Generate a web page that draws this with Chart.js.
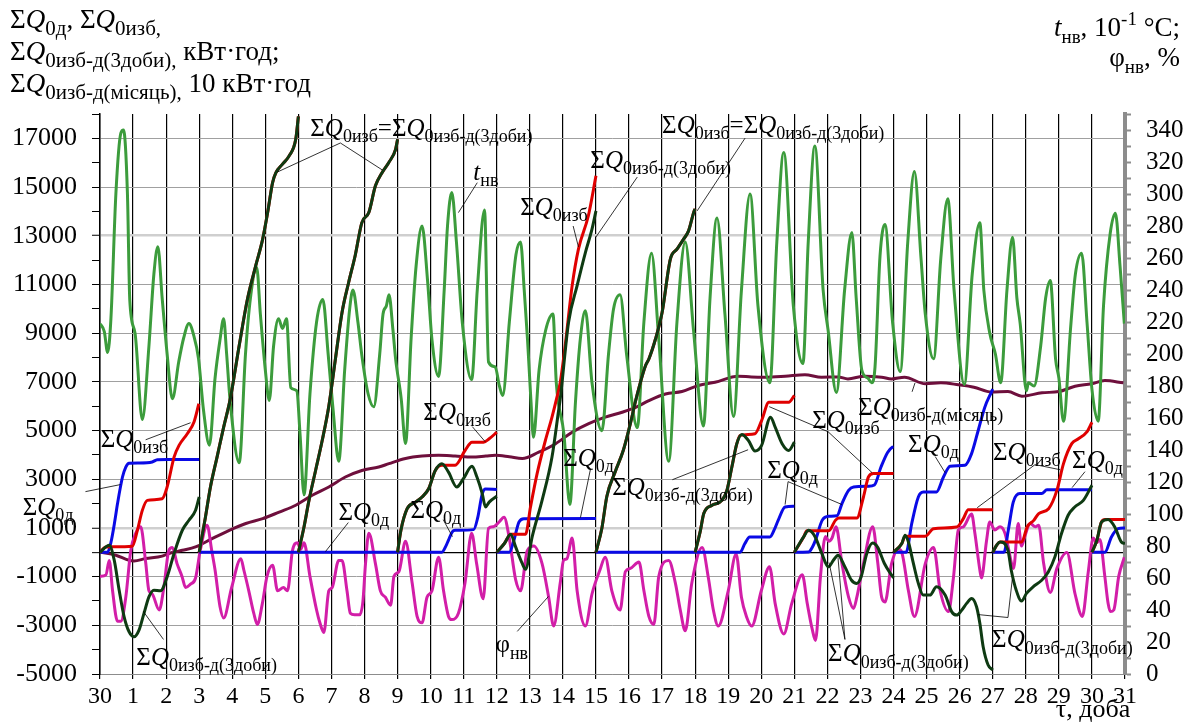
<!DOCTYPE html>
<html>
<head>
<meta charset="utf-8">
<script src="https://cdn.jsdelivr.net/npm/chart.js@4.4.1/dist/chart.umd.min.js"></script>
<style>
  html, body { margin: 0; padding: 0; background: #fff; }
  canvas { display: block; }
</style>
</head>
<body>
<canvas id="chart" width="1196" height="724"></canvas>
<script>
// x axis: day 0 is the last day (30th) of the previous month
const dayLabels = ['30', '1', '2', '3', '4', '5', '6', '7', '8', '9', '10', '11', '12', '13', '14', '15',
    '16', '17', '18', '19', '20', '21', '22', '23', '24', '25', '26', '27', '28', '29', '30', '31'];
const leftLabels = [-5000, -3000, -1000, 1000, 3000, 5000, 7000, 9000, 11000, 13000, 15000, 17000];

// t_нв, 10^-1 °C  (right axis)  [day, value]
const tempOut = [
    [0, 219], [0.13, 214], [0.23, 201], [0.33, 222], [0.48, 300], [0.63, 338], [0.71, 340], [0.83, 300], [0.9, 234],
    [1.06, 213], [1.28, 159], [1.48, 205], [1.63, 250], [1.75, 267], [1.88, 235], [2.03, 200], [2.19, 172], [2.38, 195],
    [2.53, 210], [2.69, 219], [2.83, 212], [2.98, 197], [3.13, 165], [3.31, 143], [3.48, 185], [3.63, 209], [3.74, 222],
    [3.83, 200], [3.93, 172], [4.21, 132], [4.4, 200], [4.55, 235], [4.74, 254], [4.85, 225], [5.0, 190], [5.12, 171],
    [5.25, 205], [5.4, 222], [5.52, 216], [5.64, 222], [5.77, 179], [5.95, 177], [6.05, 150], [6.17, 112], [6.35, 175],
    [6.55, 220], [6.74, 234], [6.9, 200], [7.05, 165], [7.22, 133], [7.4, 190], [7.55, 228], [7.65, 240], [7.8, 220],
    [7.92, 199], [8.11, 175], [8.28, 167], [8.46, 200], [8.56, 225], [8.66, 230], [8.74, 237], [8.86, 215], [8.94, 197],
    [9.11, 172], [9.24, 144], [9.41, 210], [9.56, 255], [9.74, 280], [9.91, 245], [10.04, 209], [10.24, 186], [10.41, 240],
    [10.51, 280], [10.64, 301], [10.78, 270], [10.96, 219], [11.24, 184], [11.41, 240], [11.63, 290], [11.75, 195],
    [11.95, 192], [12.08, 180], [12.18, 174], [12.38, 220], [12.58, 262], [12.72, 270], [12.83, 240], [12.93, 209],
    [13.03, 172], [13.11, 148], [13.28, 190], [13.48, 215], [13.7, 225], [13.8, 182], [14.03, 150], [14.21, 106],
    [14.38, 170], [14.53, 210], [14.68, 227], [14.88, 182], [15.18, 152], [15.38, 200], [15.53, 228], [15.73, 237],
    [15.93, 199], [16.25, 154], [16.45, 220], [16.68, 263], [16.9, 209], [17.2, 133], [17.45, 220], [17.7, 270],
    [17.95, 215], [18.25, 155], [18.45, 235], [18.66, 285], [18.9, 225], [19.16, 161], [19.4, 240], [19.66, 300],
    [19.9, 230], [20.26, 182], [20.47, 270], [20.68, 326], [20.97, 230], [21.26, 194], [21.42, 270], [21.62, 330],
    [21.87, 240], [22.02, 215], [22.27, 176], [22.52, 240], [22.74, 276], [22.87, 235], [23.04, 190], [23.22, 185],
    [23.34, 182], [23.44, 192], [23.59, 261], [23.74, 281], [23.97, 220], [24.2, 189], [24.43, 270], [24.63, 314],
    [24.83, 260], [24.96, 225], [25.21, 197], [25.43, 260], [25.64, 297], [25.83, 240], [26.14, 181], [26.38, 250],
    [26.61, 282], [26.73, 240], [26.91, 213], [27.08, 200], [27.24, 182], [27.43, 240], [27.6, 273], [27.73, 235],
    [27.83, 219], [28.02, 177], [28.08, 182], [28.25, 180], [28.45, 205], [28.6, 235], [28.74, 246], [28.9, 197],
    [29.0, 185], [29.14, 158], [29.35, 215], [29.5, 250], [29.69, 263], [29.85, 220], [30.0, 178], [30.19, 158],
    [30.35, 230], [30.55, 275], [30.71, 288], [30.85, 255], [30.98, 219]
];

// φ_нв, %  (right axis)
const humOut = [
    [0, 61], [0.18, 62], [0.28, 71], [0.38, 52], [0.53, 33], [0.63, 33], [0.78, 48], [0.93, 77], [1.08, 88], [1.23, 92],
    [1.38, 70], [1.48, 52], [1.58, 50], [1.79, 40], [1.93, 54], [2.08, 77], [2.19, 79], [2.33, 69], [2.48, 61], [2.59, 54],
    [2.73, 56], [2.89, 60], [3.03, 77], [3.24, 93], [3.38, 77], [3.48, 65], [3.63, 42], [3.74, 35], [3.98, 54], [4.26, 72],
    [4.35, 65], [4.5, 52], [4.65, 38], [4.76, 31], [4.91, 44], [5.05, 61], [5.22, 68], [5.37, 52], [5.55, 54], [5.67, 52],
    [5.82, 77], [5.97, 82], [6.07, 78], [6.17, 82], [6.35, 61], [6.55, 40], [6.65, 32], [6.77, 26], [6.92, 52], [7.02, 54],
    [7.22, 71], [7.32, 71], [7.47, 52], [7.57, 38], [7.7, 37], [7.85, 37], [7.95, 45], [8.03, 69], [8.13, 88], [8.33, 69],
    [8.48, 52], [8.63, 48], [8.79, 43], [8.89, 61], [9.04, 64], [9.24, 83], [9.44, 57], [9.59, 36], [9.74, 32], [9.89, 48],
    [10.04, 52], [10.24, 73], [10.39, 52], [10.54, 36], [10.64, 34], [10.84, 38], [11.04, 57], [11.24, 88], [11.39, 69],
    [11.59, 47], [11.75, 91], [11.9, 92], [12.07, 95], [12.22, 98], [12.37, 86], [12.57, 59], [12.72, 52], [12.92, 77],
    [13.12, 80], [13.37, 69], [13.57, 48], [13.72, 30], [13.92, 57], [14.02, 71], [14.12, 72], [14.28, 85], [14.43, 52],
    [14.68, 30], [14.88, 50], [15.12, 65], [15.28, 73], [15.48, 52], [15.73, 40], [15.89, 64], [16.04, 66], [16.3, 70],
    [16.45, 52], [16.6, 36], [16.75, 31], [16.9, 61], [17.2, 71], [17.4, 57], [17.55, 40], [17.7, 27], [17.9, 57],
    [18.21, 79], [18.4, 60], [18.55, 40], [18.7, 30], [19.0, 52], [19.24, 75], [19.4, 48], [19.55, 36], [19.71, 30],
    [20.0, 52], [20.25, 67], [20.42, 44], [20.68, 25], [20.92, 44], [21.24, 62], [21.39, 44], [21.54, 28], [21.64, 21],
    [21.79, 61], [21.94, 86], [22.04, 83], [22.14, 85], [22.26, 92], [22.44, 69], [22.64, 48], [22.79, 41], [22.89, 48],
    [23.09, 69], [23.37, 92], [23.52, 70], [23.64, 48], [23.74, 45], [23.94, 69], [24.15, 78], [24.25, 76], [24.45, 52],
    [24.63, 36], [24.96, 69], [25.21, 79], [25.41, 52], [25.66, 39], [25.81, 60], [25.96, 90], [26.11, 92], [26.36, 100],
    [26.46, 88], [26.61, 65], [26.66, 60], [26.81, 83], [26.91, 95], [27.06, 90], [27.22, 92], [27.37, 88], [27.47, 79],
    [27.57, 69], [27.63, 66], [27.77, 94], [27.87, 80], [27.97, 86], [28.13, 94], [28.29, 92], [28.39, 93], [28.54, 69],
    [28.74, 51], [28.94, 66], [29.24, 76], [29.49, 50], [29.71, 36], [29.89, 64], [30.04, 85], [30.14, 82], [30.24, 84],
    [30.39, 61], [30.49, 44], [30.56, 39], [30.66, 40], [30.81, 61], [30.98, 73]
];

// ΣQ0изб-д(місяць), 10 kWh  (left axis)
const qMonth = [
    [0, 0], [0.48, -120], [0.88, -330], [1.03, -355], [1.38, -260], [1.88, -160], [2.08, -50], [2.49, 80], [2.89, 220],
    [3.39, 560], [3.91, 900], [4.41, 1180], [4.92, 1380], [5.42, 1650], [5.92, 1930], [6.42, 2340], [6.92, 2680],
    [7.42, 3090], [7.92, 3360], [8.43, 3500], [8.74, 3640], [9.24, 3850], [9.74, 3950], [10.24, 3980], [10.74, 3950],
    [11.25, 3910], [11.67, 3950], [11.96, 3980], [12.38, 3920], [12.77, 3850], [13.27, 4110], [13.78, 4460],
    [14.28, 4930], [14.78, 5280], [15.28, 5550], [15.79, 5750], [16.2, 5950], [16.6, 6230], [17.1, 6500], [17.6, 6600],
    [18.1, 6850], [18.6, 6980], [19.3, 7230], [19.7, 7200], [20.1, 7190], [20.72, 7230], [21.32, 7290], [21.82, 7190],
    [22.32, 7200], [22.62, 7120], [23.12, 7230], [23.64, 7190], [23.94, 7120], [24.33, 7190], [24.96, 6920],
    [25.43, 6960], [25.96, 6880], [26.43, 6780], [26.96, 6580], [27.46, 6600], [27.88, 6410], [28.49, 6550],
    [29.0, 6600], [29.49, 6820], [29.99, 6920], [30.39, 7050], [30.95, 6960]
];

// three-day blocks with ΣQ0д = 0, where ΣQ0изб = ΣQ0изб-д(3доби)
const qSame3 = [[3, 0], [3.19, 1450], [3.34, 2680], [3.54, 3910], [3.74, 5140], [3.94, 6300], [4.21, 8490], [4.46, 10400],
    [4.71, 11770], [4.92, 12860], [5.07, 13950], [5.22, 15180], [5.32, 15590], [5.52, 15940], [5.72, 16280], [5.92, 16960], [6, 17900]];
const qSame6 = [[6, 0], [6.17, 1040], [6.32, 2130], [6.52, 3360], [6.72, 4590], [6.92, 6000], [7.12, 7940], [7.32, 9850],
    [7.52, 11080], [7.72, 12200], [7.92, 13540], [8.13, 13950], [8.33, 15050], [8.53, 15590], [8.73, 16000], [8.94, 16550], [9, 16960]];
const qSame15 = [[15, 0], [15.18, 1000], [15.33, 2300], [15.58, 3300], [15.83, 4200], [16.04, 5280], [16.2, 6230], [16.5, 7670],
    [16.6, 7940], [16.8, 8760], [17.0, 9850], [17.25, 12040], [17.45, 12450], [17.65, 12860], [17.8, 13200], [17.97, 14020], [18, 14100]];

// ΣQ0д, kWh, restarts every three days
const qDemand = [
    [[0, 0], [0.23, 0], [0.33, 400], [0.45, 1300], [0.53, 2000], [0.68, 3090], [0.78, 3500], [0.88, 3660], [1.18, 3670],
        [1.58, 3710], [1.73, 3800], [2.03, 3810], [3, 3810]],
    [[3, 0], [6, 0]],
    [[6, 0], [9, 0]],
    [[9, 0], [10.34, 0], [10.46, 250], [10.54, 500], [10.66, 850], [10.74, 900], [11.3, 930], [11.42, 1400], [11.56, 2400],
        [11.66, 2600], [12, 2580]],
    [[12, 0], [12.38, 0], [12.52, 500], [12.67, 1240], [12.82, 1380], [15, 1390]],
    [[15, 0], [18, 0]],
    [[18, 0], [19.36, 0], [19.5, 350], [19.65, 630], [20.26, 630], [20.4, 950], [20.51, 1310], [20.72, 1860], [21, 1890]],
    [[21, 0], [21.43, 10], [21.54, 200], [21.64, 500], [21.84, 1310], [22.04, 1480], [22.29, 1500], [22.44, 2000],
        [22.64, 2540], [22.79, 2680], [23.24, 2710], [23.42, 2760], [23.62, 3500], [23.82, 4100], [23.97, 4320], [24, 4330]],
    [[24, 0], [24.38, 0], [24.55, 1180], [24.75, 2270], [24.9, 2470], [25.3, 2480], [25.51, 3090], [25.71, 3530],
        [26.16, 3570], [26.36, 4050], [26.56, 5000], [26.76, 5960], [26.96, 6580], [27, 6700]],
    [[27, 0], [27.34, 0], [27.47, 900], [27.62, 2060], [27.82, 2410], [28.48, 2410], [28.64, 2570], [30, 2570]],
    [[30, 0], [30.39, 0], [30.59, 630], [30.79, 970], [31, 1000]]
];

// ΣQ0изб, kWh
const qExcess = [
    [[0, 0], [0.18, 220], [0.98, 250], [1.13, 900], [1.28, 1720], [1.43, 2130], [1.88, 2200], [2.03, 2680], [2.24, 3910],
        [2.39, 4390], [2.64, 4870], [2.84, 5340], [2.99, 6100]],
    qSame3,
    qSame6,
    [[9, 0], [9.1, 900], [9.29, 1790], [9.54, 2060], [9.74, 2270], [9.94, 2610], [10.14, 3360], [10.34, 3570], [10.74, 3570],
        [11.04, 4180], [11.25, 4520], [11.6, 4520], [11.77, 4660], [12, 4930]],
    [[12, 0], [12.23, 360], [12.42, 740], [12.87, 740], [13.02, 1860], [13.22, 3230], [13.47, 4590], [13.67, 5550],
        [13.82, 6370], [13.92, 6980], [14.07, 8500], [14.28, 10950], [14.47, 12450], [14.77, 13820], [15, 15460]],
    qSame15,
    [[18, 0], [18.16, 900], [18.26, 1590], [18.51, 1930], [18.81, 2130], [18.96, 2540], [19.11, 3500], [19.26, 4460],
        [19.36, 4800], [19.81, 4870], [20.01, 5410], [20.23, 6160], [20.83, 6160], [21, 6440]],
    [[21, 0], [21.28, 630], [21.38, 880], [22.04, 880], [22.24, 1310], [22.34, 1410], [22.89, 1410], [23.09, 2270],
        [23.24, 3090], [23.39, 3230], [24, 3230]],
    [[24, 0], [24.25, 360], [24.35, 650], [24.45, 660], [24.96, 660], [25.21, 970], [25.91, 1040], [26.11, 1380],
        [26.26, 1750], [27, 1750]],
    [[27, 0], [27.12, 290], [27.22, 424], [27.88, 424], [28.04, 1040], [28.24, 1310], [28.39, 1590], [28.69, 1790],
        [28.94, 2540], [29.14, 3640], [29.39, 4460], [29.59, 4660], [29.84, 4930], [30, 5340]],
    [[30, 0], [30.15, 494], [30.29, 1244], [30.4, 1343], [31, 1343]]
];

// ΣQ0изб-д(3доби), kWh
const qExcessNet = [
    [[0, 0], [0.28, 289], [0.43, -326], [0.58, -1556], [0.73, -2651], [0.88, -3266], [1.03, -3471], [1.18, -3196],
        [1.33, -2511], [1.48, -1831], [1.63, -1556], [1.83, -1585], [2.03, -1011], [2.24, -51], [2.49, 904], [2.69, 1314],
        [2.89, 1724], [3, 2270]],
    qSame3,
    qSame6,
    [[9, 0], [9.1, 900], [9.29, 1790], [9.54, 2060], [9.74, 2270], [9.94, 2610], [10.14, 3360], [10.34, 3640], [10.54, 3290],
        [10.79, 2680], [10.99, 3020], [11.25, 3530], [11.4, 3090], [11.56, 2410], [11.66, 1860], [11.77, 2060], [12, 2300]],
    [[12, 0], [12.23, 360], [12.42, 740], [12.57, 220], [12.77, -460], [12.87, -700], [13.07, 630], [13.37, 2130],
        [13.67, 3910], [13.87, 5820], [13.92, 6300], [14.17, 9440], [14.43, 10950], [14.68, 12310], [14.88, 13270], [15, 14020]],
    qSame15,
    [[18, 0], [18.16, 900], [18.26, 1590], [18.51, 1930], [18.81, 2130], [18.96, 2540], [19.11, 3500], [19.26, 4460],
        [19.41, 4840], [19.61, 4590], [19.81, 4160], [20.01, 4390], [20.28, 5550], [20.42, 5140], [20.63, 4460],
        [20.83, 4180], [21, 4520]],
    [[21, 0], [21.28, 630], [21.43, 900], [21.63, 630], [21.83, -50], [22.03, -600], [22.18, -330], [22.32, -120],
        [22.53, -600], [22.73, -1150], [22.89, -1280], [23.02, -1010], [23.19, -50], [23.37, 380], [23.52, 200],
        [23.72, -450], [23.92, -900], [24, -1050]],
    [[24, 0], [24.25, 360], [24.35, 700], [24.45, 420], [24.6, -460], [24.75, -1280], [24.9, -1760], [25.1, -1760],
        [25.3, -1420], [25.56, -1760], [25.76, -2450], [25.91, -2580], [26.06, -2380], [26.21, -2100], [26.36, -1900],
        [26.51, -2240], [26.61, -2920], [26.71, -3880], [26.86, -4630], [27, -4840]],
    [[27, 0], [27.12, 290], [27.22, 424], [27.46, 80], [27.56, -740], [27.71, -1560], [27.87, -2000], [28.02, -1690],
        [28.22, -1420], [28.48, -1150], [28.68, -810], [28.88, -190], [29.08, 770], [29.28, 1520], [29.48, 1860],
        [29.74, 2130], [30, 2750]],
    [[30, 0], [30.15, 494], [30.29, 1244], [30.49, 1343], [30.69, 1039], [30.89, 424], [31, 359]]
];

// ---------- helpers ----------
const serif = '"Liberation Serif", "Times New Roman", serif';

function pts(arr) {
    return arr.map(p => ({ x: p[0], y: p[1] }));
}
// join the three-day blocks, with a break between them
function blocks(list) {
    let out = [];
    list.forEach((seg, i) => {
        if (i > 0) out.push({ x: seg[0][0], y: null });
        out = out.concat(pts(seg));
    });
    return out;
}

function setFont(ctx, kind, size, ratio) {
    const small = Math.round(size * ratio);
    if (kind === 'i') ctx.font = 'italic ' + size + 'px ' + serif;
    else if (kind === 's' || kind === 'p') ctx.font = small + 'px ' + serif;
    else ctx.font = size + 'px ' + serif;
}
function drawRich(ctx, parts, x, y, size, align, ratio) {
    ratio = ratio || 0.68;
    let w = 0;
    parts.forEach(p => { setFont(ctx, p[1], size, ratio); w += ctx.measureText(p[0]).width; });
    let cx = align === 'right' ? x - w : (align === 'center' ? x - w / 2 : x);
    parts.forEach(p => {
        setFont(ctx, p[1], size, ratio);
        let dy = 0;
        if (p[1] === 's') dy = size * 0.25;
        if (p[1] === 'p') dy = -size * 0.4;
        ctx.fillText(p[0], cx, y + dy);
        cx += ctx.measureText(p[0]).width;
    });
}
const sq = s => [['Σ', 'r'], ['Q', 'i'], [s, 's']];
const eqText = sq('0изб').concat([['=', 'r']], sq('0изб-д(3доби)'));

// callouts, placed in [day, left-axis value]
const notes = [
    { text: eqText, at: [6.36, 17100], lines: [[[7.27, 16810], [5.37, 15620]], [[7.27, 16810], [8.54, 15700]]] },
    { text: [['t', 'i'], ['нв', 's']], at: [11.29, 15300], lines: [[[11.41, 15180], [10.84, 13950]]] },
    { text: sq('0изб'), at: [12.71, 13860], lines: [[[14.31, 13400], [14.47, 12540]]] },
    { text: sq('0изб-д(3доби)'), at: [14.83, 15780], lines: [[[16.25, 15410], [14.98, 12910]]] },
    { text: eqText, at: [17.0, 17220], lines: [[[19.51, 17010], [18.06, 14020]]] },
    { text: sq('0изб'), at: [0.02, 4340], lines: [[[1.38, 4620], [2.74, 5320]]] },
    { text: sq('0д'), at: [-2.34, 1550], lines: [[[-0.44, 2490], [0.62, 2780]]] },
    { text: sq('0изб-д(3доби)'), at: [1.10, -4610], lines: [[[1.92, -3580], [1.31, -2430]]] },
    { text: sq('0д'), at: [7.21, 1340], lines: [[[7.51, 1220], [6.82, 30]]] },
    { text: sq('0изб'), at: [9.78, 5445], lines: [[[11.26, 5160], [11.65, 4540]]] },
    { text: sq('0д'), at: [9.39, 1420], lines: [[[10.38, 1340], [10.66, 640]]] },
    { text: sq('0д'), at: [14.01, 3560], lines: [[[14.83, 3390], [14.53, 1420]]] },
    { text: sq('0изб-д(3доби)'), at: [15.49, 2370], lines: [[[17.31, 2980], [19.6, 4210]]] },
    { text: [['φ', 'r'], ['нв', 's']], at: [11.96, -4115], lines: [[[12.62, -3250], [13.56, -1820]]] },
    { text: sq('0изб'), at: [21.54, 5120], lines: [[[22.02, 4950], [20.24, 5980]], [[22.02, 4950], [23.35, 3270]]] },
    { text: sq('0д'), at: [20.18, 3065], lines: [[[20.81, 2900], [20.72, 1960]], [[20.81, 2900], [22.44, 1960]]] },
    { text: sq('0изб-д(3доби)'), at: [22.02, -4485], lines: [[[22.53, -3580], [22.05, -420]], [[22.53, -3580], [22.32, -220]]] },
    { text: sq('0изб-д(місяць)'), at: [22.93, 5650], lines: [[[24.56, 6590], [24.65, 6960]]] },
    { text: sq('0д'), at: [24.44, 4130], lines: [[[25.26, 3930], [25.56, 3270]]] },
    { text: sq('0изб'), at: [27.01, 3800], lines: [[[28.28, 3600], [26.53, 1830]], [[28.28, 3600], [29.04, 3390]]] },
    { text: sq('0д'), at: [29.40, 3475], lines: [[[29.79, 3310], [29.4, 2655]]] },
    { text: sq('0изб-д(3доби)'), at: [26.98, -3910], lines: [[[27.46, -2680], [26.56, -2560]], [[27.46, -2680], [27.59, -1120]]] }
];

const decorPlugin = {
    id: 'decor',
    beforeDraw(chart) {
        const ctx = chart.ctx;
        ctx.save();
        ctx.fillStyle = '#fff';
        ctx.fillRect(0, 0, chart.width, chart.height);
        ctx.restore();
    },
    afterDraw(chart) {
        const ctx = chart.ctx;
        const sx = chart.scales.x, sy = chart.scales.y;
        ctx.save();
        ctx.fillStyle = '#000';
        ctx.textBaseline = 'alphabetic';
        ctx.textAlign = 'left';

        // axis titles
        drawRich(ctx, sq('0д').concat([[', ', 'r']], sq('0изб'), [[',', 's']]), 10, 28, 27, 'left', 0.76);
        drawRich(ctx, sq('0изб-д(3доби)').concat([[',', 's'], [' кВт·год;', 'r']]), 10, 60, 27, 'left', 0.76);
        drawRich(ctx, sq('0изб-д(місяць)').concat([[',', 's'], [' 10 кВт·год', 'r']]), 10, 92, 27, 'left', 0.76);
        drawRich(ctx, [['t', 'i'], ['нв', 's'], [', 10', 'r'], ['-1', 'p'], [' °C;', 'r']], 1180, 36, 27, 'right', 0.72);
        drawRich(ctx, [['φ', 'r'], ['нв', 's'], [', %', 'r']], 1180, 66, 27, 'right', 0.72);
        drawRich(ctx, [['τ, доба', 'r']], 1093, 717, 26, 'center');

        // callouts
        ctx.strokeStyle = '#000';
        ctx.lineWidth = 0.8;
        notes.forEach(n => {
            n.lines.forEach(l => {
                ctx.beginPath();
                ctx.moveTo(sx.getPixelForValue(l[0][0]), sy.getPixelForValue(l[0][1]));
                ctx.lineTo(sx.getPixelForValue(l[1][0]), sy.getPixelForValue(l[1][1]));
                ctx.stroke();
            });
            drawRich(ctx, n.text, sx.getPixelForValue(n.at[0]), sy.getPixelForValue(n.at[1]), 25, 'left', 0.7);
        });
        ctx.restore();
    }
};

function lineSet(label, data, color, axis, width, order) {
    return {
        label: label,
        data: data,
        yAxisID: axis,
        borderColor: color,
        backgroundColor: color,
        borderWidth: width,
        pointRadius: 0,
        fill: false,
        spanGaps: false,
        cubicInterpolationMode: 'monotone',
        order: order
    };
}

let config = {
    type: 'line',
    data: {
        datasets: [
            lineSet('ΣQ0изб-д(3доби)', blocks(qExcessNet), '#0e3a12', 'y', 3, 0),
            lineSet('ΣQ0изб', blocks(qExcess), '#e00000', 'y', 3, 1),
            lineSet('ΣQ0д', blocks(qDemand), '#0a0ae6', 'y', 3, 2),
            lineSet('φнв', pts(humOut), '#d21ea8', 'y1', 3, 3),
            lineSet('tнв', pts(tempOut), '#3c9c3c', 'y1', 3, 4),
            lineSet('ΣQ0изб-д(місяць)', pts(qMonth), '#6e0f3c', 'y', 3, 5)
        ]
    },
    options: {
        responsive: false,
        animation: false,
        devicePixelRatio: 1,
        layout: { padding: { top: 114, left: 0, right: 0, bottom: 0 } },
        plugins: {
            legend: { display: false },
            tooltip: { enabled: false }
        },
        scales: {
            x: {
                type: 'linear',
                min: 0,
                max: 31,
                afterFit: s => { s.height = 50; },
                ticks: {
                    stepSize: 1,
                    autoSkip: false,
                    maxRotation: 0,
                    padding: 3,
                    color: '#000',
                    font: { family: serif, size: 24 },
                    callback: v => dayLabels[v]
                },
                grid: {
                    color: c => (c.tick && c.tick.value === 31) ? 'rgba(0,0,0,0)' : '#000',
                    lineWidth: 1.2,
                    tickLength: 5,
                    tickColor: '#000'
                },
                border: { color: '#8c8c8c', width: 1 }
            },
            y: {
                position: 'left',
                min: -5000,
                max: 18000,
                afterFit: s => { s.width = 100; },
                ticks: {
                    stepSize: 1000,
                    autoSkip: false,
                    padding: 15,
                    color: '#000',
                    font: { family: serif, size: 26 },
                    callback: v => leftLabels.includes(v) ? String(v) : ''
                },
                grid: {
                    color: c => {
                        const v = c.tick ? c.tick.value : null;
                        if (v === 0) return '#000';
                        if (v === 13000 || v === 1000) return '#cfcfcf';
                        if (leftLabels.includes(v)) return '#a0a0a0';
                        return 'rgba(0,0,0,0)';
                    },
                    lineWidth: c => {
                        const v = c.tick ? c.tick.value : null;
                        if (v === 0) return 1.3;
                        if (v === 13000 || v === 1000) return 2.5;
                        return 1;
                    },
                    tickLength: 8,
                    tickColor: '#000',
                    tickWidth: 1
                },
                border: { color: '#000', width: 1.5 }
            },
            y1: {
                position: 'right',
                min: 0,
                max: 350,
                afterFit: s => { s.width = 71; },
                ticks: {
                    stepSize: 10,
                    autoSkip: false,
                    padding: 15,
                    color: '#000',
                    font: { family: serif, size: 25 },
                    callback: v => (v % 20 === 0 && v <= 340) ? String(v) : ''
                },
                grid: {
                    drawOnChartArea: false,
                    tickLength: 6,
                    tickColor: '#8c8c8c',
                    tickWidth: 2
                },
                border: { color: '#8c8c8c', width: 4 }
            }
        }
    },
    plugins: [decorPlugin]
};

let myChart = new Chart(document.getElementById('chart'), config);
</script>
</body>
</html>
